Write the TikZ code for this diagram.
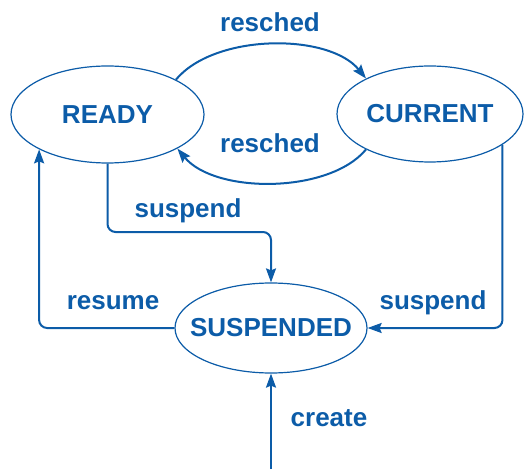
\documentclass[tikz,border=0pt]{standalone}
\usepackage{fontspec}
\setmainfont{Liberation Sans}
\usetikzlibrary{arrows.meta,shapes.geometric}
\definecolor{stateblue}{RGB}{12,92,168}
\tikzset{
  lbl/.style={text=stateblue, font=\fontsize{26}{30}\selectfont\bfseries, inner sep=0pt},
  % the ellipse keeps its given size; the name sits in a centred label
  state/.style={ellipse, draw=stateblue, line width=1.2pt, inner sep=0pt,
    label={[lbl]center:#1}},
  edge/.style={draw=stateblue, line width=2pt,
    -{Stealth[length=14pt,width=10pt,inset=2pt]}}
}
\begin{document}
\begin{tikzpicture}[x=1pt,y=1pt]
  \useasboundingbox (0,0) rectangle (524,469);
  % states
  \node[state=READY, minimum width=193pt, minimum height=97pt] (ready) at (107.5,354.5) {};
  \node[state=CURRENT, minimum width=186pt, minimum height=96pt] (current) at (430,355) {};
  \node[state=SUSPENDED, minimum width=192pt, minimum height=90pt] (susp) at (271,141) {};
  % helper points
  \coordinate (bend) at (271,237);
  \coordinate (entry) at (271,0);
  % transitions between READY and CURRENT
  \draw[edge] (ready.27) .. controls (215,436) and (329,436) .. (current.151);
  \draw[edge] (current.209) .. controls (329,275) and (215,275) .. (ready.-26);
  % transitions into and out of SUSPENDED
  \draw[edge, rounded corners=8pt] (ready.south) |- (bend) -- (susp.north);
  \draw[edge, rounded corners=8pt] (current.-23) |- (susp.east);
  \draw[edge, rounded corners=8pt] (susp.west) -| (ready.207);
  \draw[edge] (entry) -- (susp.south);
  % labels
  \node[lbl] (l1) at (270,447) {resched};
  \node[lbl] (l2) at (270,326) {resched};
  \node[lbl] (l3) at (188,258) {suspend};
  \node[lbl] (l4) at (433,166) {suspend};
  \node[lbl] (l5) at (113,166) {resume};
  \node[lbl] (l6) at (329,51) {create};
\end{tikzpicture}
\end{document}
